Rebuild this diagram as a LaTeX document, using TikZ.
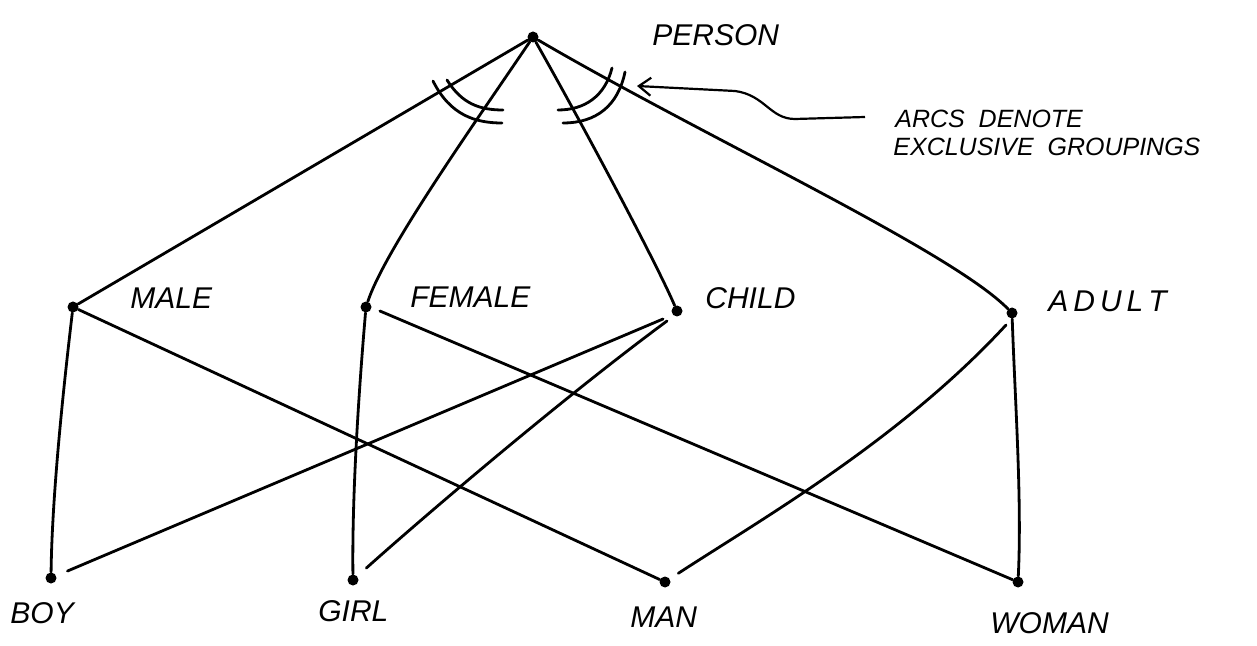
\documentclass[tikz,border=0pt]{standalone}
\usepackage{fontspec}
\setmainfont{Liberation Sans}
\usetikzlibrary{arrows.meta}
\begin{document}
\begin{tikzpicture}[x=0.5pt,y=-0.5pt,
  dot/.style={circle,fill=black,inner sep=0pt,minimum size=5.5pt},
  lab/.style={anchor=west,inner sep=0pt,font=\fontsize{15}{15}\selectfont\itshape},
  note/.style={anchor=west,inner sep=0pt,font=\fontsize{12.5}{12.5}\selectfont\itshape},
  edge/.style={line width=1.4pt,line cap=round},
  arcline/.style={line width=1.4pt,line cap=round}]
\useasboundingbox (0,0) rectangle (1257,646);
% nodes
\node[dot] (person) at (533,37) {};
\node[dot] (male) at (73,307) {};
\node[dot] (female) at (366,307) {};
\node[dot] (child) at (677,311) {};
\node[dot] (adult) at (1012,313) {};
\node[dot] (boy) at (51,578) {};
\node[dot] (girl) at (353,580) {};
\node[dot] (man) at (665,582) {};
\node[dot] (woman) at (1018,582) {};
% labels
\node[lab] (lperson) at (652,35) {PERSON};
\node[lab] (lmale) at (130,298) {MALE};
\node[lab] (lfemale) at (410,297) {FEMALE};
\node[lab] (lchild) at (705,298) {CHILD};
\node[lab] (ladult) at (1048,301) {A\,D\,U\,L\,T};
\node[lab] (lboy) at (10,613) {BOY};
\node[lab] (lgirl) at (318,611) {GIRL};
\node[lab] (lman) at (630,617) {MAN};
\node[lab] (lwoman) at (990,623) {WOMAN};
\node[note] (n1) at (895,119) {ARCS\ \ DENOTE};
\node[note] (n2) at (893,147) {EXCLUSIVE\ \ GROUPINGS};
% edges from person
\draw[edge] (person) -- (male);
\draw[edge] (person) .. controls (470,130) and (385,250) .. (female);
\draw[edge] (person) .. controls (580,120) and (655,260) .. (child);
\draw[edge] (person) .. controls (700,135) and (950,250) .. (adult);
% edges to bottom
\draw[edge] (male) .. controls (62,400) and (52,500) .. (boy);
\draw[edge] (male) -- (man);
\draw[edge] (female) .. controls (358,400) and (352,500) .. (girl);
\draw[edge] (female.east) ++(8,4) -- (woman);
\draw[edge,shorten >=6pt] (child) ++(-14,8) -- (boy);
\draw[edge,shorten >=6pt] (child) ++(-10,10) .. controls (560,400) and (420,520) .. (girl);
\draw[edge,shorten >=5pt] (adult) ++(-6,12) .. controls (900,440) and (760,520) .. (man);
\draw[edge] (adult) .. controls (1015,400) and (1022,500) .. (woman);
% exclusive grouping arcs
\draw[arcline] (433,81) .. controls (450,115) and (475,123) .. (502,123);
\draw[arcline] (447,80) .. controls (462,104) and (480,110) .. (503,110);
\draw[arcline] (558,110) .. controls (585,110) and (605,96) .. (612,68);
\draw[arcline] (563,123) .. controls (596,123) and (618,106) .. (625,72);
% annotation arrow
\coordinate (arrowstart) at (865,117);
\coordinate (arrowtip) at (637,86);
\draw[line width=1.1pt,-{Straight Barb[length=6pt,width=9pt]}] (arrowstart) -- (795,119) .. controls (770,119) and (765,95) .. (735,91) -- (arrowtip);
\end{tikzpicture}
\end{document}
